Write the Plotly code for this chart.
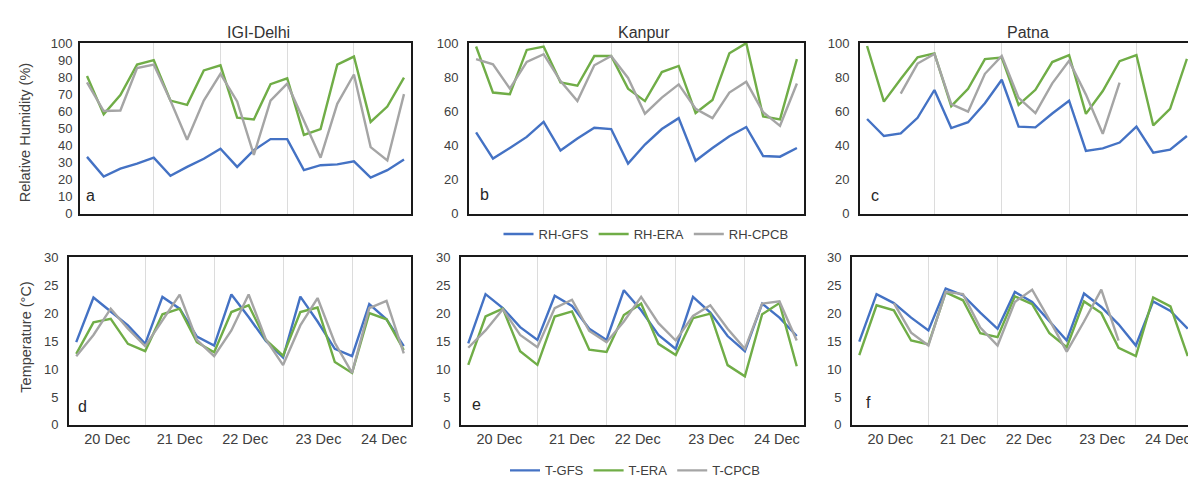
import plotly.graph_objects as go

# ---------------- data ----------------
stations = ["IGI-Delhi", "Kanpur", "Patna"]
panel_letters_rh = ["a", "b", "c"]
panel_letters_t = ["d", "e", "f"]
day_labels = ["20 Dec", "21 Dec", "22 Dec", "23 Dec", "24 Dec"]
steps = list(range(20))  # 6-hourly time steps, 20-24 Dec

delhi_rh_gfs = [33.3, 21.8, 26.4, 29.3, 32.8, 22.2, 27.4, 32.2, 38.1, 27.4, 37.2, 43.7, 43.7, 25.5, 28.4, 28.9, 30.7, 21.1, 25.5, 31.8]
delhi_rh_era = [80.7, 58.2, 69.5, 87.4, 90.0, 66.3, 63.8, 84.0, 87.0, 56.3, 55.2, 75.9, 79.3, 46.2, 49.6, 87.4, 92.1, 53.8, 62.8, 79.7]
delhi_rh_cpcb = [77.0, 60.2, 60.5, 85.4, 87.4, 66.3, 43.3, 66.3, 82.0, 65.8, 34.5, 66.3, 76.2, 54.8, 32.8, 64.4, 81.6, 39.0, 31.2, 70.1]

kanpur_rh_gfs = [47.7, 32.3, 38.5, 45.0, 53.8, 37.0, 44.0, 50.4, 49.6, 29.4, 40.5, 49.6, 56.0, 31.0, 38.5, 45.4, 50.8, 33.8, 33.4, 38.5]
kanpur_rh_era = [98.0, 71.0, 70.0, 96.0, 98.0, 77.0, 75.0, 92.4, 92.5, 73.3, 66.0, 83.0, 86.6, 59.0, 66.6, 94.0, 100.0, 57.0, 55.3, 90.6]
kanpur_rh_cpcb = [90.6, 87.6, 73.3, 89.0, 93.5, 77.7, 66.0, 87.0, 92.4, 79.6, 58.6, 68.0, 75.8, 61.5, 56.0, 71.0, 77.3, 59.5, 51.5, 76.3]

patna_rh_gfs = [55.5, 45.5, 47.0, 56.2, 72.5, 50.2, 53.6, 64.7, 78.5, 51.0, 50.6, 58.7, 66.2, 36.8, 38.3, 41.7, 51.0, 35.7, 37.5, 45.5]
patna_rh_era = [98.3, 65.7, 79.0, 91.7, 94.0, 63.0, 73.2, 90.6, 91.5, 63.8, 72.6, 88.9, 93.0, 58.5, 71.9, 89.4, 93.0, 51.7, 61.5, 90.8]
patna_rh_cpcb = [None, None, 70.4, 88.0, 93.6, 64.2, 59.8, 82.0, 92.5, 67.9, 58.9, 76.4, 89.6, 69.8, 46.8, 76.8, None, None, None, None]

delhi_t_gfs = [14.8, 22.8, 20.3, 17.8, 14.5, 22.9, 20.8, 15.8, 14.2, 23.35, 19.3, 15.0, 12.05, 22.95, 18.5, 13.6, 12.3, 21.6, 18.9, 14.1]
delhi_t_era = [12.7, 18.35, 19.0, 14.5, 13.2, 19.8, 20.8, 14.8, 13.0, 20.2, 21.4, 15.2, 12.4, 20.2, 21.0, 11.25, 9.3, 20.0, 18.9, 13.4]
delhi_t_cpcb = [12.3, 16.1, 20.8, 17.2, 14.1, 18.75, 23.3, 15.2, 12.3, 16.9, 23.35, 15.3, 10.7, 17.8, 22.7, 14.7, 9.3, 20.9, 22.2, 12.8]

kanpur_t_gfs = [14.6, 23.4, 20.9, 17.5, 15.2, 23.1, 21.3, 17.2, 15.2, 24.1, 20.5, 16.1, 13.6, 22.9, 20.1, 15.9, 13.2, 21.7, 19.2, 15.9]
kanpur_t_era = [10.75, 19.4, 20.8, 13.2, 10.75, 19.4, 20.3, 13.45, 13.05, 19.65, 21.7, 14.5, 12.5, 19.1, 19.9, 10.7, 8.7, 19.8, 21.8, 10.5]
kanpur_t_cpcb = [13.8, 16.9, 20.7, 16.1, 13.9, 20.9, 22.4, 16.8, 14.8, 18.5, 22.9, 18.2, 15.1, 19.5, 21.4, 17.2, 13.6, 21.7, 22.1, 15.1]

patna_t_gfs = [14.9, 23.4, 21.8, 19.2, 16.9, 24.4, 23.2, 20.1, 17.2, 23.8, 22.0, 18.6, 15.1, 23.5, 21.1, 18.0, 14.2, 22.1, 20.4, 17.2]
patna_t_era = [12.5, 21.4, 20.5, 15.1, 14.4, 23.7, 22.3, 16.4, 15.7, 23.0, 21.6, 16.4, 13.9, 22.1, 20.0, 13.8, 12.3, 22.8, 21.2, 12.3]
patna_t_cpcb = [None, None, 21.8, 16.5, 14.2, 23.8, 23.4, 17.4, 14.2, 22.0, 24.2, 18.8, 13.1, 18.5, 24.2, 15.1, None, None, None, None]

rh_series_names = ["RH-GFS", "RH-ERA", "RH-CPCB"]
t_series_names = ["T-GFS", "T-ERA", "T-CPCB"]

# ---------------- layout constants ----------------
W, H = 1196, 484
FONT = "Liberation Sans, Arial, sans-serif"
COLORS = ["#4472C4", "#70AD47", "#A5A5A5"]
day_label_pos = [1.8, 6.0, 9.8, 14.05, 17.85]
day_boundaries = [4, 8, 12, 16]


def fx(p):
    return p / W


def fy(p):
    return 1 - p / H


# pixel boxes: (left, right, top, bottom)
boxes = [
    (72, 403, 29, 205), (461, 796, 29, 205), (852, 1186, 29, 205),
    (61, 403, 250, 423), (453, 796, 250, 423), (844, 1187, 250, 423),
]

rh_data = [
    (delhi_rh_gfs, delhi_rh_era, delhi_rh_cpcb),
    (kanpur_rh_gfs, kanpur_rh_era, kanpur_rh_cpcb),
    (patna_rh_gfs, patna_rh_era, patna_rh_cpcb),
]
t_data = [
    (delhi_t_gfs, delhi_t_era, delhi_t_cpcb),
    (kanpur_t_gfs, kanpur_t_era, kanpur_t_cpcb),
    (patna_t_gfs, patna_t_era, patna_t_cpcb),
]

fig = go.Figure()
layout = {}

for i in range(6):
    n = i + 1
    xs = "x" if n == 1 else f"x{n}"
    ys = "y" if n == 1 else f"y{n}"
    row_rh = i < 3
    col = i % 3
    series = rh_data[col] if row_rh else t_data[col]
    names = rh_series_names if row_rh else t_series_names
    for k in range(3):
        fig.add_trace(go.Scatter(
            x=steps, y=series[k], mode="lines", name=names[k],
            line=dict(color=COLORS[k], width=2.4),
            xaxis=xs, yaxis=ys,
            showlegend=(col == 0),
            legend="legend" if row_rh else "legend2",
            connectgaps=False,
        ))
    l, r, t, b = boxes[i]
    xa = dict(
        domain=[fx(l), fx(r)], anchor=ys, range=[-0.42, 19.42],
        showline=True, mirror=True, linecolor="#1a1a1a", linewidth=2,
        showgrid=False, zeroline=False, ticks="",
        minor=dict(tickvals=day_boundaries, showgrid=True, gridcolor="#DCDCDC", gridwidth=1, ticks=""),
    )
    if row_rh:
        xa.update(showticklabels=False)
    else:
        xa.update(tickmode="array", tickvals=day_label_pos, ticktext=day_labels,
                  tickfont=dict(family=FONT, size=14.5, color="#404040"))
    ya = dict(
        domain=[fy(b), fy(t)], anchor=xs,
        range=[0, 100] if row_rh else [0, 30],
        dtick=(10 if i == 0 else 20) if row_rh else 5,
        showline=True, mirror=True, linecolor="#1a1a1a", linewidth=2,
        showgrid=False, zeroline=False, ticks="",
        tickfont=dict(family=FONT, size=13, color="#404040"),
        ticklabelstandoff=(3 if i == 0 else 6),
    )
    layout["xaxis" if n == 1 else f"xaxis{n}"] = xa
    layout["yaxis" if n == 1 else f"yaxis{n}"] = ya

annotations = []
# station titles
for name, cx in zip(stations, [250, 636, 1020]):
    annotations.append(dict(text=name, x=fx(cx), y=fy(18), xref="paper", yref="paper",
                            showarrow=False, xanchor="center", yanchor="middle",
                            font=dict(family=FONT, size=16, color="#333333")))
# panel letters
letter_pos = [(82, 186), (476, 185), (867, 186), (74, 404), (468, 402), (860, 400)]
for letter, (px, py) in zip(panel_letters_rh + panel_letters_t, letter_pos):
    annotations.append(dict(text=letter, x=fx(px), y=fy(py), xref="paper", yref="paper",
                            showarrow=False, xanchor="center", yanchor="middle",
                            font=dict(family=FONT, size=16, color="#262626")))
# y-axis titles
annotations.append(dict(text="Relative Humidity (%)", x=fx(17), y=fy(122), xref="paper", yref="paper",
                        showarrow=False, textangle=-90, xanchor="center", yanchor="middle",
                        font=dict(family=FONT, size=14.5, color="#404040")))
annotations.append(dict(text="Temperature (°C)", x=fx(18), y=fy(333), xref="paper", yref="paper",
                        showarrow=False, textangle=-90, xanchor="center", yanchor="middle",
                        font=dict(family=FONT, size=14.5, color="#404040")))

fig.update_layout(
    width=W, height=H,
    margin=dict(l=0, r=0, t=0, b=0),
    paper_bgcolor="white", plot_bgcolor="white",
    font=dict(family=FONT, color="#404040"),
    annotations=annotations,
    legend=dict(orientation="h", x=fx(638), y=fy(226), xanchor="center", yanchor="middle",
                font=dict(family=FONT, size=13, color="#404040"), bgcolor="rgba(0,0,0,0)",
                itemwidth=30, tracegroupgap=0),
    legend2=dict(orientation="h", x=fx(627), y=fy(470), xanchor="center", yanchor="middle",
                 font=dict(family=FONT, size=13, color="#404040"), bgcolor="rgba(0,0,0,0)",
                 itemwidth=30, tracegroupgap=0),
    **layout,
)

fig.write_html("out.html")
